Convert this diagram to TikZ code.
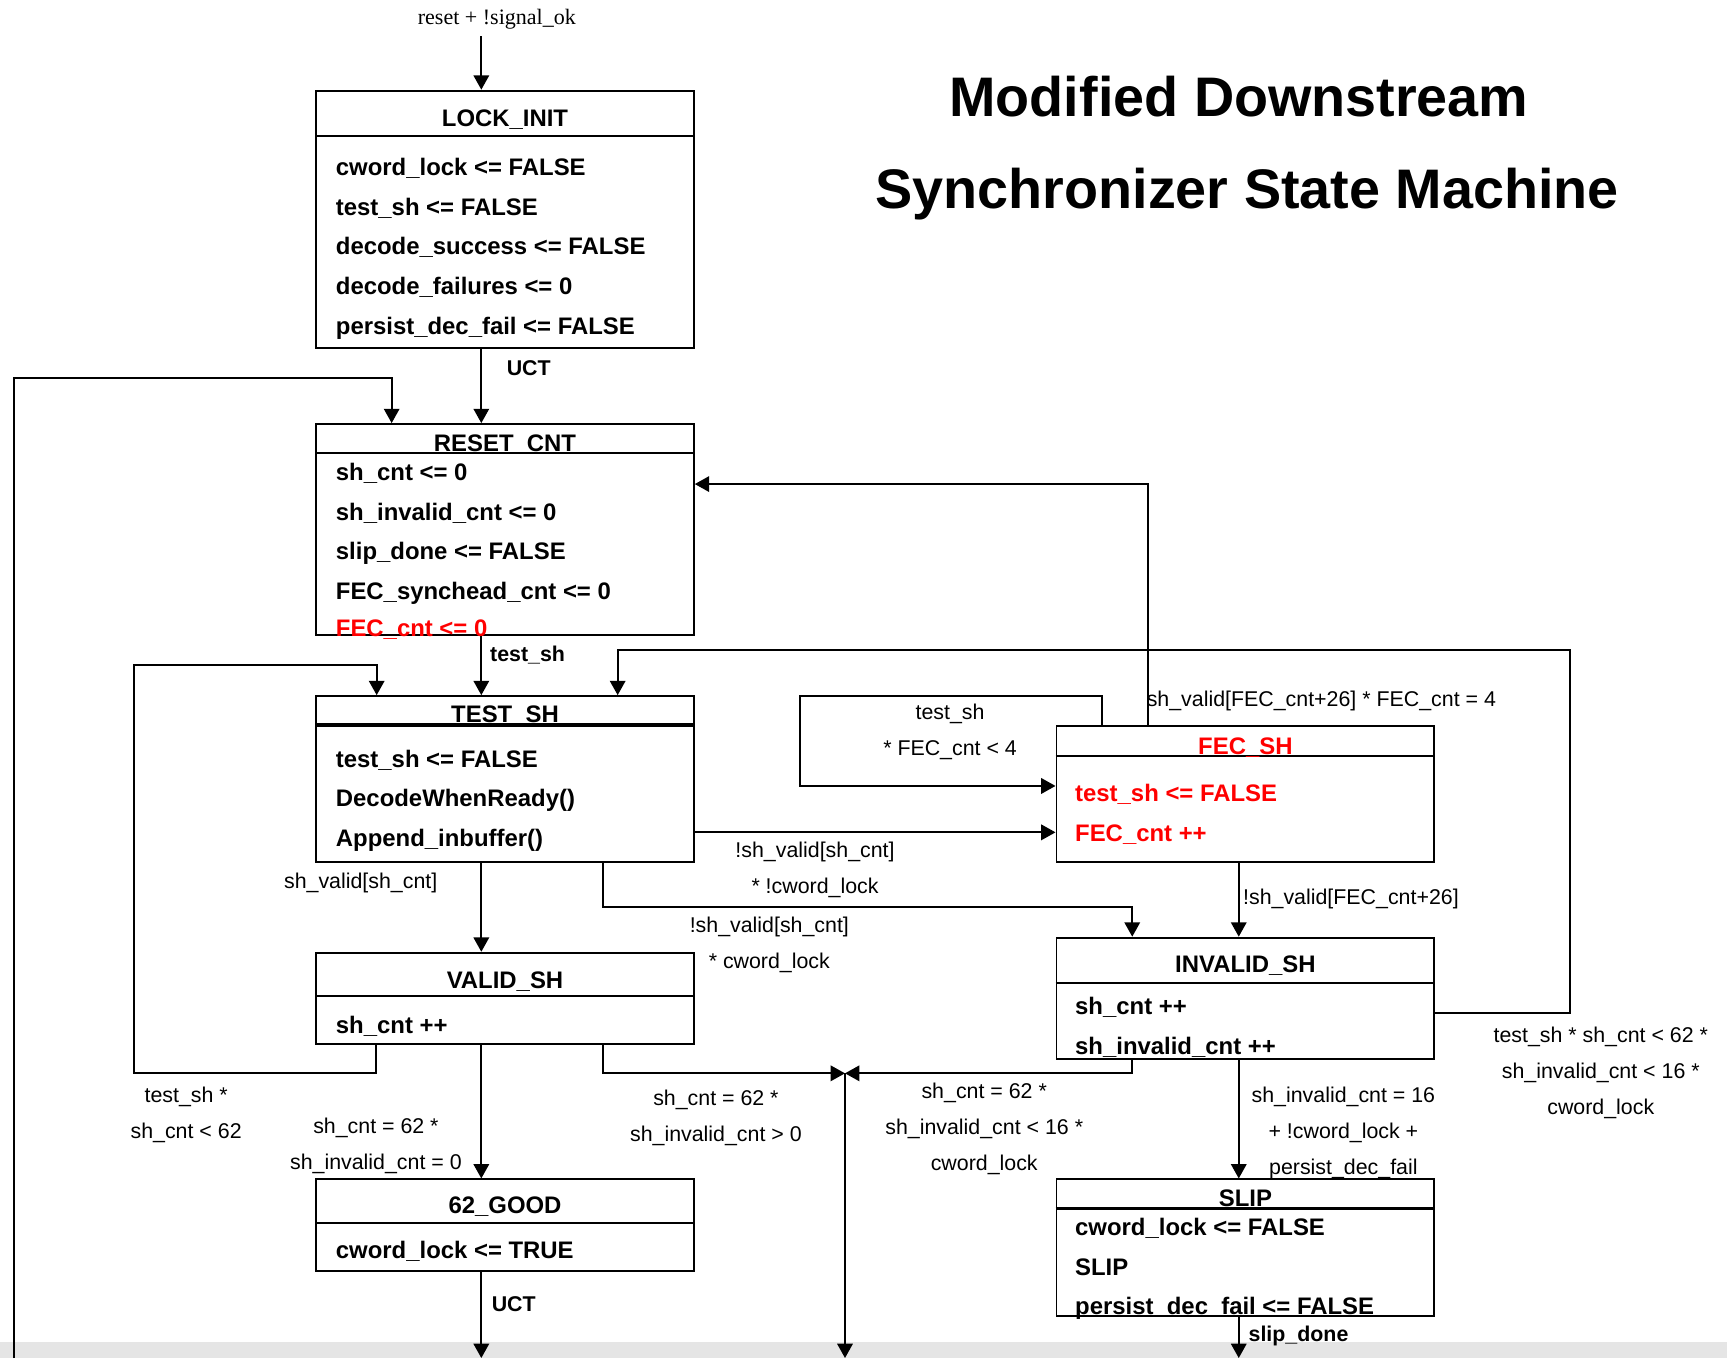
\documentclass[tikz,border=0pt]{standalone}
\usepackage{fontspec}
\setmainfont{Liberation Sans}
\newfontfamily\timesfont{Liberation Serif}
\usetikzlibrary{arrows.meta}
\definecolor{bandgray}{RGB}{229,229,229}
\tikzset{>={Triangle[length=13pt,width=14pt]},
  sbox/.style={draw, line width=1.7pt, minimum width=343pt, inner sep=0pt},
  head/.style={font=\bfseries\fontsize{21.7}{26}\selectfont, anchor=base, inner sep=0pt},
  body/.style={font=\bfseries\fontsize{21.7}{36}\selectfont, align=left, anchor=north west, inner sep=0pt},
  cond/.style={font=\fontsize{19.4}{32.7}\selectfont, align=center, anchor=north, inner sep=0pt},
  condb/.style={font=\bfseries\fontsize{19.4}{24}\selectfont, anchor=base west, inner sep=0pt},
  link/.style={->, line width=1.8pt}}

\begin{document}
\begin{tikzpicture}[x=1pt, y=-1pt]
\useasboundingbox (0,0) rectangle (1568,1233);
\fill[bandgray] (0,1218) rectangle (1568,1233);

\node[font=\bfseries\fontsize{50.6}{60}\selectfont, anchor=base] (title1) at (1124.9,105.9) {Modified Downstream};
\node[font=\bfseries\fontsize{50.6}{60}\selectfont, anchor=base] (title2) at (1132.4,189.2) {Synchronizer State Machine};

\node[sbox, minimum height=234pt]   (lock)    at (458.5,199.3)  {};
\node[sbox, minimum height=191.5pt] (reset)   at (458.5,480.75) {};
\node[sbox, minimum height=150.3pt] (test)    at (458.5,707.15) {};
\node[sbox, minimum height=83pt]    (valid)   at (458.5,906.5)  {};
\node[sbox, minimum height=82.9pt]  (good)    at (458.5,1112.25) {};
\node[sbox, minimum height=123.8pt] (fec)     at (1130.7,721.1) {};
\node[sbox, minimum height=110.2pt] (invalid) at (1130.7,906.4) {};
\node[sbox, minimum height=123.8pt] (slip)    at (1130.7,1132.7) {};

\draw[line width=1.7pt] (lock.west |- 0,123.5) -- (lock.east |- 0,123.5);
\draw[line width=1.7pt] (reset.west |- 0,411.6) -- (reset.east |- 0,411.6);
\draw[line width=3.5pt] (test.west |- 0,658) -- (test.east |- 0,658);
\draw[line width=1.7pt] (valid.west |- 0,904.3) -- (valid.east |- 0,904.3);
\draw[line width=1.7pt] (good.west |- 0,1110) -- (good.east |- 0,1110);
\draw[line width=2.2pt] (fec.west |- 0,686.4) -- (fec.east |- 0,686.4);
\draw[line width=1.7pt] (invalid.west |- 0,892.2) -- (invalid.east |- 0,892.2);
\draw[line width=2.8pt] (slip.west |- 0,1097) -- (slip.east |- 0,1097);

\node[head] (lockh) at (458.5,115) {LOCK\_INIT};
\node[body] (lockt) at (304.8,143.5) {cword\_lock <= FALSE\\test\_sh <= FALSE\\decode\_success <= FALSE\\decode\_failures <= 0\\persist\_dec\_fail <= FALSE};
\node[head] (reseth) at (458.5,410) {RESET\_CNT};
\node[body] (resett) at (304.8,420.3) {sh\_cnt <= 0\\sh\_invalid\_cnt <= 0\\slip\_done <= FALSE\\FEC\_synchead\_cnt <= 0\\[-2.5pt]\textcolor{red}{FEC\_cnt <= 0}};
\node[head] (testh) at (458.5,656.2) {TEST\_SH};
\node[body] (testt) at (304.8,680.5) {test\_sh <= FALSE\\DecodeWhenReady()\\Append\_inbuffer()};
\node[head] (validh) at (458.5,897.3) {VALID\_SH};
\node[body] (validt) at (304.8,922.7) {sh\_cnt ++};
\node[head] (goodh) at (458.5,1102.2) {62\_GOOD};
\node[body] (goodt) at (304.8,1127) {cword\_lock <= TRUE};
\node[head, text=red] (fech) at (1130.7,684.6) {FEC\_SH};
\node[body, text=red] (fect) at (976,711.8) {test\_sh <= FALSE\\FEC\_cnt ++};
\node[head] (invalidh) at (1130.7,883.1) {INVALID\_SH};
\node[body] (invalidt) at (976,905.4) {sh\_cnt ++\\sh\_invalid\_cnt ++};
\node[head] (sliph) at (1130.7,1095.6) {SLIP};
\node[body] (slipt) at (976,1105.8) {cword\_lock <= FALSE\\SLIP\\persist\_dec\_fail <= FALSE};

\node[font=\timesfont\fontsize{20}{22}\selectfont, anchor=base, inner sep=0pt] (rst) at (451.1,22.7) {reset + !signal\_ok};
\coordinate (in) at (437,33);
\draw[link] (in) -- (in |- lock.north);

\draw[link] (437,0 |- lock.south) -- (437,0 |- reset.north);
\node[condb] (uct1) at (459.9,340.5) {UCT};
\coordinate (out1) at (12.3,1233);
\draw[link] (out1) |- (355.6,343.5) -- (355.6,0 |- reset.north);

\draw[link] (437,0 |- reset.south) -- (437,0 |- test.north);
\node[condb] (tsh) at (444.9,600.8) {test\_sh};

\draw[link] (1042,0 |- fec.north) |- (reset.east |- 0,439.5);
\node[condb, font=\fontsize{19.4}{24}\selectfont] (c1) at (1041,641.6) {sh\_valid[FEC\_cnt+26] * FEC\_cnt = 4};

\draw[link] (1000.3,0 |- fec.north) |- (726,632) |- (fec.west |- 0,713.6);
\node[cond] (c2) at (862.6,639.1) {test\_sh\\{}* FEC\_cnt < 4};

\draw[link] (test.east |- 0,755.7) -- (fec.west |- 0,755.7);
\node[cond] (c3) at (740,763.9) {!sh\_valid[sh\_cnt]\\{}* !cword\_lock};

\draw[link] (547.8,0 |- test.south) |- (1028,823.2) -- (1028,0 |- invalid.north);
\node[cond] (c4) at (698.5,832) {!sh\_valid[sh\_cnt]\\{}* cword\_lock};

\draw[link] (437,0 |- test.south) -- (437,0 |- valid.north);
\node[cond, anchor=base] (c5) at (327.5,807) {sh\_valid[sh\_cnt]};

\draw[link] (1124.7,0 |- fec.south) -- (1124.7,0 |- invalid.north);
\node[condb, font=\fontsize{19.4}{24}\selectfont] (c6) at (1128.5,821) {!sh\_valid[FEC\_cnt+26]};

\draw[link] (341.7,0 |- valid.south) |- (122,974.5) |- (342,604) -- (342,0 |- test.north);
\node[cond] (c7) at (169,986.9) {test\_sh *\\sh\_cnt < 62};

\draw[link] (invalid.east |- 0,920) -| (1425.5,590.2) -| (560.8,0 |- test.north);
\node[cond] (c8) at (1453.4,931.8) {test\_sh * sh\_cnt < 62 *\\sh\_invalid\_cnt < 16 *\\cword\_lock};

\coordinate (jn) at (767.2,974.5);
\draw[link] (547.8,0 |- valid.south) |- (jn);
\node[cond] (c9) at (650,989.4) {sh\_cnt = 62 *\\sh\_invalid\_cnt > 0};
\draw[link] (1028,0 |- invalid.south) |- (jn);
\node[cond] (c10) at (893.6,983.3) {sh\_cnt = 62 *\\sh\_invalid\_cnt < 16 *\\cword\_lock};
\coordinate (out2) at (767.2,1233);
\draw[link] (jn) -- (out2);

\draw[link] (437,0 |- valid.south) -- (437,0 |- good.north);
\node[cond] (c11) at (341.3,1015.1) {sh\_cnt = 62 *\\sh\_invalid\_cnt = 0};
\coordinate (out3) at (437,1233);
\draw[link] (437,0 |- good.south) -- (out3);
\node[condb] (uct2) at (446.3,1191) {UCT};

\draw[link] (1124.7,0 |- invalid.south) -- (1124.7,0 |- slip.north);
\node[cond] (c12) at (1219.7,986.3) {sh\_invalid\_cnt = 16\\+ !cword\_lock +\\persist\_dec\_fail};
\coordinate (out4) at (1124.7,1233);
\draw[link] (1124.7,0 |- slip.south) -- (out4);
\node[condb] (sdone) at (1133.5,1218) {slip\_done};
\end{tikzpicture}
\end{document}
